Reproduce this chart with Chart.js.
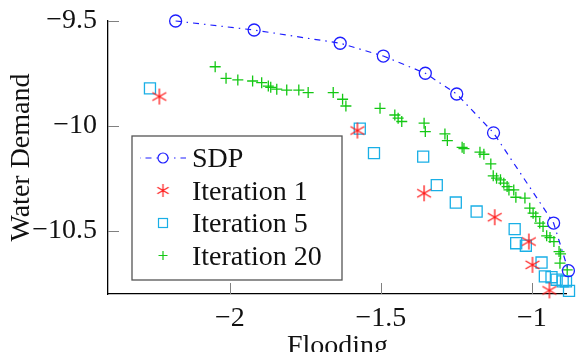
<!DOCTYPE html>
<html>
<head>
<meta charset="utf-8">
<script src="https://cdn.jsdelivr.net/npm/chart.js@4.4.1/dist/chart.umd.min.js"></script>
<style>
  body { margin: 0; background: #fff; }
  #grafico { display: block; }
</style>
</head>
<body>
<canvas id="grafico" width="576" height="352"></canvas>
<script>
// Dados -------------------------------------------------------------------

const sdpX = [-2.18, -1.92, -1.635, -1.492, -1.353, -1.249, -1.127, -0.928, -0.879]
const sdpY = [-9.50, -9.543, -9.606, -9.667, -9.749, -9.848, -10.033, -10.463, -10.69]

const it1X = [-2.234, -1.578, -1.357, -1.123, -1.010, -0.998, -0.942]
const it1Y = [-9.860, -10.022, -10.321, -10.435, -10.551, -10.662, -10.784]

const it5X = [-2.265, -1.570, -1.523, -1.360, -1.315, -1.252, -1.183, -1.057, -1.052, -1.020, -0.968, -0.957, -0.935, -0.918, -0.898, -0.887, -0.877]
const it5Y = [-9.821, -10.013, -10.130, -10.146, -10.282, -10.365, -10.408, -10.492, -10.559, -10.571, -10.651, -10.717, -10.721, -10.733, -10.741, -10.741, -10.786]

const it20X = [-2.049, -2.013, -1.974, -1.925, -1.895, -1.873, -1.865, -1.845, -1.812, -1.772, -1.741, -1.658, -1.627, -1.616,
  -1.503, -1.454, -1.443, -1.431, -1.357, -1.353, -1.288, -1.280, -1.231, -1.225, -1.172, -1.159, -1.136, -1.128, -1.117,
  -1.104, -1.093, -1.082, -1.076, -1.060, -1.053, -1.023, -1.007, -0.996, -0.987, -0.974, -0.963, -0.951, -0.940, -0.927,
  -0.910, -0.905, -0.907, -0.883]
const it20Y = [-9.718, -9.773, -9.781, -9.786, -9.794, -9.810, -9.816, -9.825, -9.829, -9.829, -9.841, -9.841, -9.873, -9.905,
  -9.916, -9.948, -9.963, -9.979, -9.987, -10.027, -10.038, -10.070, -10.102, -10.108, -10.125, -10.135, -10.181, -10.238, -10.249,
  -10.257, -10.273, -10.289, -10.305, -10.305, -10.340, -10.344, -10.392, -10.416, -10.432, -10.463, -10.479, -10.524, -10.532, -10.551,
  -10.599, -10.610, -10.654, -10.686]

const nomes = ['SDP', 'Iteration 1', 'Iteration 5', 'Iteration 20']

const xTicks = [-2, -1.5, -1]
const yTicks = [-9.5, -10, -10.5]

// Cores e fonte ------------------------------------------------------------

const azul = 'rgb(30,30,255)'
const vermelho = 'rgb(255,25,25)'
const ciano = 'rgb(25,175,230)'
const verde = 'rgb(20,200,20)'
const fonte = { family: '"Liberation Serif", "Times New Roman", serif', size: 28 }

function pares(xs, ys) {
  return xs.map((x, i) => ({ x: x, y: ys[i] }))
}

function rotulo(v) {
  return (v < 0 ? '\u2212' : '') + Math.abs(v)
}

// asterisco de 6 pontas (estilo pgfplots)
function CriaAsterisco(r, cor, lw) {
  const c = document.createElement('canvas')
  const s = Math.ceil(2 * r + lw + 2)
  c.width = s
  c.height = s
  const g = c.getContext('2d')
  g.strokeStyle = cor
  g.lineWidth = lw
  g.translate(s / 2, s / 2)
  g.beginPath()
  for (let k = 0; k < 3; k++) {
    const a = Math.PI / 2 + k * Math.PI / 3
    g.moveTo(r * Math.cos(a), r * Math.sin(a))
    g.lineTo(-r * Math.cos(a), -r * Math.sin(a))
  }
  g.stroke()
  return c
}

const asterisco = CriaAsterisco(8, vermelho, 1.3)
const asteriscoLegenda = CriaAsterisco(6.5, vermelho, 1.2)

// Ticks internos (como no pgfplots) -----------------------------------------

const ticksInternos = {
  id: 'ticksInternos',
  beforeDatasetsDraw(chart) {
    const c = chart.ctx
    const xs = chart.scales.x
    const ys = chart.scales.y
    const area = chart.chartArea
    c.save()
    c.strokeStyle = '#808080'
    c.lineWidth = 1
    xTicks.forEach(v => {
      const px = Math.round(xs.getPixelForValue(v)) + 0.5
      c.beginPath()
      c.moveTo(px, area.bottom)
      c.lineTo(px, area.bottom - 11)
      c.stroke()
    })
    yTicks.forEach(v => {
      const py = Math.round(ys.getPixelForValue(v)) + 0.5
      c.beginPath()
      c.moveTo(area.left, py)
      c.lineTo(area.left + 11, py)
      c.stroke()
    })
    c.restore()
  }
}

// Legenda dentro da área do gráfico ----------------------------------------

const legenda = {
  id: 'legenda',
  afterDraw(chart) {
    const c = chart.ctx
    const bx = 132, by = 136, bw = 210, bh = 144
    c.save()
    c.fillStyle = '#fff'
    c.fillRect(bx, by, bw, bh)
    c.strokeStyle = '#555'
    c.lineWidth = 1.3
    c.strokeRect(bx, by, bw, bh)

    const mx = 163
    const linhas = [158, 190.5, 223, 255.5]

    // SDP: linha tracejada + círculo
    c.strokeStyle = azul
    c.lineWidth = 1.2
    c.setLineDash([6, 5, 1.5, 5])
    c.lineDashOffset = 12
    c.beginPath()
    c.moveTo(mx - 23, linhas[0])
    c.lineTo(mx + 23, linhas[0])
    c.stroke()
    c.setLineDash([])
    c.fillStyle = '#fff'
    c.beginPath()
    c.arc(mx, linhas[0], 5, 0, Math.PI * 2)
    c.fill()
    c.stroke()

    // Iteration 1
    c.drawImage(asteriscoLegenda, mx - asteriscoLegenda.width / 2, linhas[1] - asteriscoLegenda.height / 2)

    // Iteration 5
    c.strokeStyle = ciano
    c.strokeRect(mx - 4.5, linhas[2] - 4.5, 9, 9)

    // Iteration 20
    c.strokeStyle = verde
    c.beginPath()
    c.moveTo(mx - 4.5, linhas[3])
    c.lineTo(mx + 4.5, linhas[3])
    c.moveTo(mx, linhas[3] - 4.5)
    c.lineTo(mx, linhas[3] + 4.5)
    c.stroke()

    c.fillStyle = '#111'
    c.font = fonte.size + 'px ' + fonte.family
    c.textBaseline = 'alphabetic'
    c.textAlign = 'left'
    nomes.forEach((n, i) => c.fillText(n, 192, linhas[i] + 9))
    c.restore()
  }
}

// Gráfico ------------------------------------------------------------------

const ctx = document.getElementById('grafico').getContext('2d')

const data = {
  datasets: [
    {
      label: nomes[0],
      data: pares(sdpX, sdpY),
      showLine: true,
      borderColor: azul,
      borderWidth: 1.2,
      borderDash: [6, 5, 1.5, 5],
      pointStyle: 'circle',
      pointRadius: 6,
      pointBorderColor: azul,
      pointBackgroundColor: 'rgba(0,0,0,0)',
      pointBorderWidth: 1.3,
      clip: false
    },
    {
      label: nomes[1],
      data: pares(it1X, it1Y),
      pointStyle: asterisco,
      pointRadius: 8,
      clip: false
    },
    {
      label: nomes[2],
      data: pares(it5X, it5Y),
      pointStyle: 'rect',
      pointRadius: 7.8,
      pointBorderColor: ciano,
      pointBackgroundColor: 'rgba(0,0,0,0)',
      pointBorderWidth: 1.3,
      clip: false
    },
    {
      label: nomes[3],
      data: pares(it20X, it20Y),
      pointStyle: 'cross',
      pointRadius: 5.5,
      pointBorderColor: verde,
      pointBorderWidth: 1.3,
      clip: false
    }
  ]
}

const config = {
  type: 'scatter',
  data,
  options: {
    responsive: false,
    animation: false,
    events: [],
    layout: { padding: { top: 21, right: 3, left: 0, bottom: 0 } },
    plugins: {
      legend: false,
      tooltip: false
    },
    scales: {
      x: {
        type: 'linear',
        min: -2.404,
        max: -0.884,
        afterBuildTicks: s => { s.ticks = xTicks.map(v => ({ value: v })) },
        afterFit: s => { s.height = 58; s.paddingLeft = 0; s.paddingRight = 0 },
        grid: { display: false, drawTicks: false },
        border: { display: true, color: '#000', width: 1.3 },
        ticks: { color: '#111', font: fonte, padding: 8, maxRotation: 0, callback: rotulo },
        title: { display: true, text: 'Flooding', color: '#111', font: fonte, padding: { top: 0, bottom: -11 } }
      },
      y: {
        type: 'linear',
        min: -10.801,
        max: -9.5,
        afterBuildTicks: s => { s.ticks = yTicks.map(v => ({ value: v })) },
        afterFit: s => { s.width = 108; s.paddingTop = 0; s.paddingBottom = 0 },
        grid: { display: false, drawTicks: false },
        border: { display: true, color: '#000', width: 1.3 },
        ticks: { color: '#111', font: fonte, padding: 11, callback: rotulo },
        title: { display: true, text: 'Water Demand', color: '#111', font: fonte, padding: { top: 5, bottom: 0 } }
      }
    }
  },
  plugins: [ticksInternos, legenda]
}

new Chart(ctx, config)
</script>
</body>
</html>
